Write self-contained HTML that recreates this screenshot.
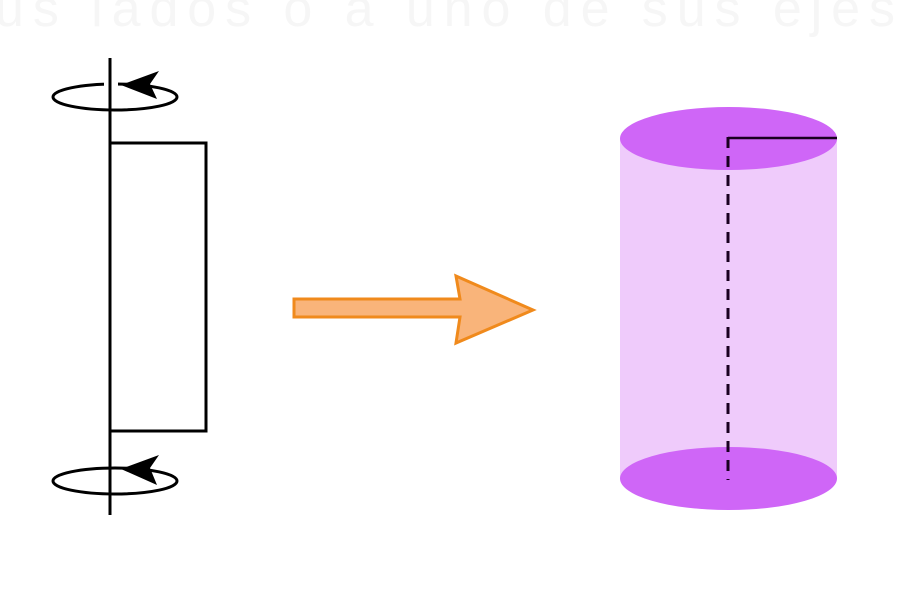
<!DOCTYPE html>
<html><head><style>
html,body{margin:0;padding:0;background:#fff;width:910px;height:590px;overflow:hidden}
</style></head><body>
<svg width="910" height="590" viewBox="0 0 910 590" xmlns="http://www.w3.org/2000/svg">
<text x="-5" y="26" font-family="Liberation Sans, sans-serif" font-size="52" fill="#f6f6f6" textLength="900">us lados o a uno de sus ejes</text>
<g stroke="#000" stroke-width="3" fill="none">
<line x1="110" y1="58" x2="110" y2="515"/>
<ellipse cx="115" cy="97" rx="62" ry="13"/>
<ellipse cx="115" cy="481" rx="62" ry="13"/>
<polyline points="111,143 206,143 206,431 111,431"/>
</g>
<rect x="104" y="82" width="14" height="12" fill="#fff"/>
<line x1="110" y1="80" x2="110" y2="96" stroke="#000" stroke-width="3"/>
<polygon points="121,85 159,71 150,84 157,99" fill="#000"/>
<polygon points="121,469 159,455 150,468 157,485" fill="#000"/>
<polygon points="294,299 460,299 456,276 533,310 456,343 460,317 294,317" fill="#f9b47a" stroke="#f08a1c" stroke-width="3" stroke-linejoin="miter"/>
<rect x="620" y="138" width="217" height="340" fill="#efcbfb"/>
<ellipse cx="728.5" cy="478.5" rx="108.5" ry="31.5" fill="#cf66f7"/>
<ellipse cx="728.5" cy="138.5" rx="108.5" ry="31.5" fill="#cf66f7"/>
<line x1="728" y1="138" x2="837" y2="138" stroke="#1a0020" stroke-width="2.5"/>
<line x1="728" y1="137" x2="728" y2="480" stroke="#1a0020" stroke-width="3" stroke-dasharray="11,8"/>
</svg>
</body></html>
